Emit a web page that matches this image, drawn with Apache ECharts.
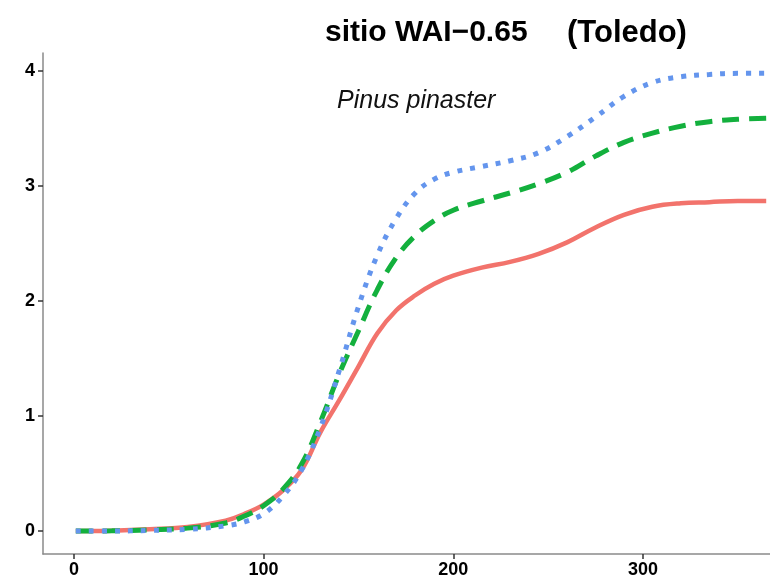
<!DOCTYPE html>
<html>
<head>
<meta charset="utf-8">
<script src="https://cdn.jsdelivr.net/npm/echarts@6/dist/echarts.min.js"></script>
<style>html,body{margin:0;padding:0;background:#fff;}#c{width:770px;height:579px;}</style>
</head>
<body>
<div id="c"></div>
<script>
const days = [1, 20, 40, 60, 80, 90, 100, 110, 120, 130, 140, 150, 160, 170, 180, 190, 200, 215, 230, 245, 260, 275, 290, 305, 320, 335, 350, 365];
const redVals = [0, 0.003, 0.015, 0.035, 0.09, 0.15, 0.23, 0.35, 0.53, 0.86, 1.14, 1.43, 1.72, 1.92, 2.05, 2.15, 2.22, 2.29, 2.34, 2.41, 2.51, 2.64, 2.75, 2.82, 2.85, 2.86, 2.87, 2.87];
const greenVals = [0, 0.002, 0.01, 0.025, 0.07, 0.13, 0.22, 0.36, 0.58, 0.95, 1.37, 1.74, 2.1, 2.38, 2.57, 2.70, 2.79, 2.87, 2.94, 3.02, 3.12, 3.26, 3.38, 3.46, 3.52, 3.56, 3.58, 3.59];
const blueVals = [0, 0.0, 0.005, 0.015, 0.045, 0.08, 0.15, 0.3, 0.53, 0.9, 1.4, 1.95, 2.4, 2.72, 2.94, 3.06, 3.12, 3.17, 3.22, 3.29, 3.43, 3.6, 3.78, 3.9, 3.95, 3.97, 3.98, 3.98];
const xTicks = [0, 100, 200, 300];
const yTicks = [0, 1, 2, 3, 4];
const titleMain = 'sitio WAI\u22120.65';
const titlePlace = '(Toledo)';
const speciesLabel = 'Pinus pinaster';

const pair = v => days.map((d, i) => [d, v[i]]);
const chart = echarts.init(document.getElementById('c'), null, {renderer: 'canvas'});
const FONT = 'Liberation Sans, Arial, sans-serif';
const axisCommon = {
  axisLine: {show: true, onZero: false, lineStyle: {color: '#8a8a8a', width: 1.5}},
  axisTick: {show: true, length: 5, lineStyle: {color: '#333', width: 1.5}},
  axisLabel: {color: '#000', fontWeight: 'bold', fontSize: 18, fontFamily: FONT},
  splitLine: {show: false}
};
chart.setOption({
  animation: false,
  backgroundColor: '#fff',
  title: [
    {text: titleMain, left: 320, top: 13, textStyle: {fontSize: 30, fontWeight: 'bold', color: '#000', fontFamily: FONT}},
    {text: titlePlace, left: 562, top: 13, textStyle: {fontSize: 31, fontWeight: 'bold', color: '#000', fontFamily: FONT}},
    {text: speciesLabel, left: 332, top: 84, textStyle: {fontSize: 25, fontStyle: 'italic', fontWeight: 'normal', color: '#111', fontFamily: FONT}}
  ],
  grid: {left: 43, right: 0, top: 53, bottom: 25, containLabel: false},
  xAxis: Object.assign({}, axisCommon, {
    type: 'value', min: -16.3, max: 367,
    axisTick: Object.assign({}, axisCommon.axisTick, {customValues: xTicks}),
    axisLabel: Object.assign({}, axisCommon.axisLabel, {customValues: xTicks, margin: 7})
  }),
  yAxis: Object.assign({}, axisCommon, {
    type: 'value', min: -0.2, max: 4.157,
    axisTick: Object.assign({}, axisCommon.axisTick, {customValues: yTicks}),
    axisLabel: Object.assign({}, axisCommon.axisLabel, {customValues: yTicks, margin: 8})
  }),
  series: [
    {type: 'line', data: pair(redVals), smooth: 0.4, showSymbol: false, z: 2,
     lineStyle: {color: '#F2736C', width: 4.5, type: 'solid'}},
    {type: 'line', data: pair(greenVals), smooth: 0.4, showSymbol: false, z: 3,
     lineStyle: {color: '#13B03D', width: 5, type: [17, 10], cap: 'butt'}},
    {type: 'line', data: pair(blueVals), smooth: 0.4, showSymbol: false, z: 4,
     lineStyle: {color: '#6495ED', width: 5, type: [5, 8], cap: 'butt'}}
  ]
});
</script>
</body>
</html>
